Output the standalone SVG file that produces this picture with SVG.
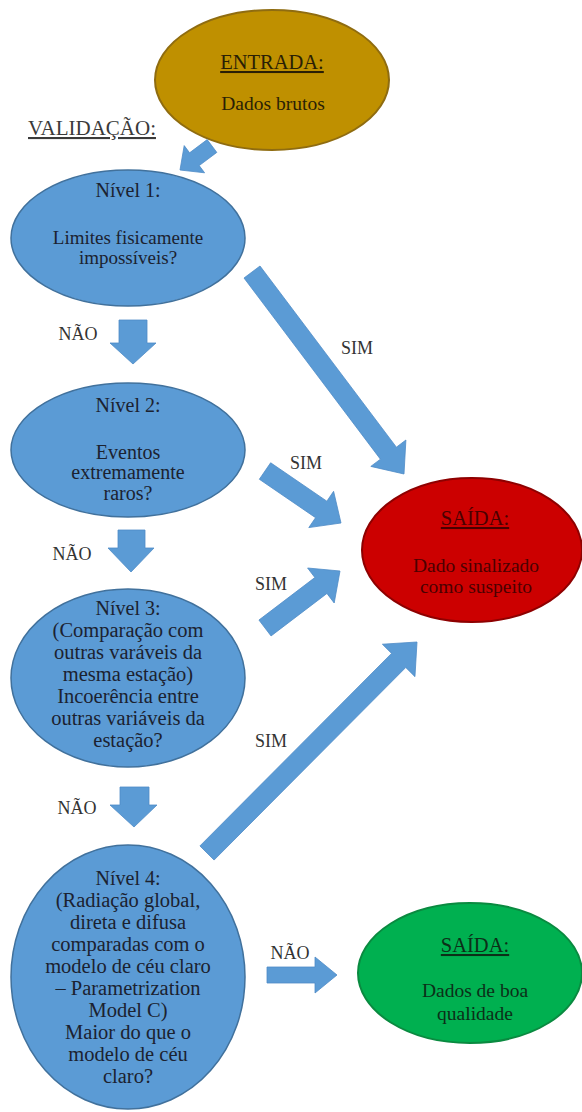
<svg xmlns="http://www.w3.org/2000/svg" width="582" height="1112" viewBox="0 0 582 1112" font-family="'Liberation Serif', 'DejaVu Serif', serif">
<style>
text{font-family:'Liberation Serif','DejaVu Serif',serif;text-anchor:middle}
.blue{fill:#5B9BD5;stroke:#41719C;stroke-width:1.5}
.arrow{fill:#5B9BD5;stroke:#4F8CC6;stroke-width:0.8}
.h{fill:#1B2230;font-size:20px}
.t1{fill:#1B2230;font-size:19px}
.t2{fill:#1B2230;font-size:20px}
.t3{fill:#1B2230;font-size:20.5px}
.t4{fill:#1B2230;font-size:20.5px}
.lbl{fill:#333;font-size:18px}
.u{text-decoration:underline}
</style>
<rect width="582" height="1112" fill="#fff"/>
<text x="92" y="135" style="font-size:21px;fill:#3a3a3a" class="u">VALIDAÇÃO:</text>
<g id="entrada">
<ellipse cx="272" cy="80" rx="117" ry="70" fill="#BF9000" stroke="#8F6C10" stroke-width="2"/>
<text x="272" y="69" class="u" style="font-size:20.5px;fill:#2a1f05">ENTRADA:</text>
<text x="273" y="110" style="font-size:19.5px;fill:#2a1f05">Dados brutos</text>
</g>
<g id="nivel1">
<ellipse cx="128" cy="238" rx="117" ry="68" class="blue"/>
<text x="128" y="197" class="h">Nível 1:</text>
<text x="128" y="244" class="t1">Limites fisicamente</text>
<text x="128" y="264" class="t1">impossíveis?</text>
</g>
<g id="nivel2">
<ellipse cx="128" cy="450" rx="117" ry="67" class="blue"/>
<text x="128" y="412" class="h">Nível 2:</text>
<text x="128" y="459" class="t2">Eventos</text>
<text x="128" y="479" class="t2">extremamente</text>
<text x="128" y="500" class="t2">raros?</text>
</g>
<g id="nivel3">
<ellipse cx="128" cy="678" rx="117" ry="89" class="blue"/>
<text x="128" y="615" class="h">Nível 3:</text>
<text x="128" y="637" class="t3">(Comparação com</text>
<text x="128" y="659" class="t3">outras varáveis da</text>
<text x="128" y="681" class="t3">mesma estação)</text>
<text x="128" y="703" class="t3">Incoerência entre</text>
<text x="128" y="725" class="t3">outras variáveis da</text>
<text x="128" y="747" class="t3">estação?</text>
</g>
<g id="nivel4">
<ellipse cx="128" cy="977" rx="117" ry="132" class="blue"/>
<text x="128" y="885" class="h">Nível 4:</text>
<text x="128" y="907" class="t4">(Radiação global,</text>
<text x="128" y="929" class="t4">direta e difusa</text>
<text x="128" y="951" class="t4">comparadas com o</text>
<text x="128" y="973" class="t4">modelo de céu claro</text>
<text x="128" y="995" class="t4">– Parametrization</text>
<text x="128" y="1017" class="t4">Model C)</text>
<text x="128" y="1039" class="t4">Maior do que o</text>
<text x="128" y="1061" class="t4">modelo de céu</text>
<text x="128" y="1083" class="t4">claro?</text>
</g>
<g id="saida-suspeito">
<ellipse cx="472" cy="550" rx="110" ry="72" fill="#CC0000" stroke="#8E0000" stroke-width="2"/>
<text x="475" y="525" class="u" style="font-size:20.5px;fill:#4a0000">SAÍDA:</text>
<text x="476" y="572" style="font-size:19.5px;fill:#4a0000">Dado sinalizado</text>
<text x="476" y="593" style="font-size:19.5px;fill:#4a0000">como suspeito</text>
</g>
<g id="saida-boa">
<ellipse cx="470" cy="973" rx="112" ry="70" fill="#00B050" stroke="#0A8A40" stroke-width="2"/>
<text x="475" y="952" class="u" style="font-size:20.5px;fill:#0c2f18">SAÍDA:</text>
<text x="475" y="997" style="font-size:19.5px;fill:#0c2f18">Dados de boa</text>
<text x="475" y="1020" style="font-size:19.5px;fill:#0c2f18">qualidade</text>
</g>
<g id="connectors">
<polygon class="arrow" points="216.8,152.4 199.2,165.6 204.6,172.8 180,170 184.2,145.6 189.6,152.8 207.2,139.6"/>
<polygon class="arrow" points="119,320 147,320 147,343 156,343 133,364 110,343 119,343"/>
<polygon class="arrow" points="118,530 145,530 145,548 154,548 131,572 108,548 118,548"/>
<polygon class="arrow" points="120,787 149,787 149,805 157,805 134,827 110,805 120,805"/>
<polygon class="arrow" points="267,967 315,967 315,957 337,975 315,993 315,983 267,983"/>
<polygon class="arrow" points="244.0,278.0 380.4,459.2 370.8,466.4 404,474 405.9,440.0 396.4,447.2 260.0,266.0"/>
<polygon class="arrow" points="259.35,479.25 315.55,517.7 308.8,527.6 341,523 333.6,491.3 326.85,501.2 270.65,462.75"/>
<polygon class="arrow" points="271.05,635.96 326.95,593.46 334.2,603.0 340,571 307.6,568.0 314.85,577.54 258.95,620.04"/>
<polygon class="arrow" points="214.09,860.05 405.75,667.48 414.96,676.65 417,642 382.36,644.21 391.57,653.38 199.91,845.95"/>
<text x="357" y="354" class="lbl">SIM</text>
<text x="306" y="469" class="lbl">SIM</text>
<text x="271" y="590" class="lbl">SIM</text>
<text x="271" y="747" class="lbl">SIM</text>
<text x="78" y="340" class="lbl">NÃO</text>
<text x="72" y="560" class="lbl">NÃO</text>
<text x="77" y="814" class="lbl">NÃO</text>
<text x="290" y="959" class="lbl">NÃO</text>
</g>
</svg>
